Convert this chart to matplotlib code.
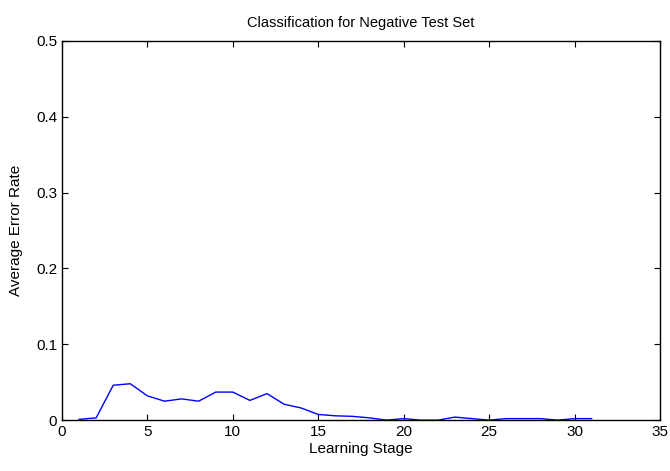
import matplotlib
matplotlib.use("Agg")
from matplotlib import pyplot as plt

plt.rcParams['font.family'] = ['Liberation Sans', 'DejaVu Sans']

stage = list(range(1, 32))
err = [0.001, 0.003, 0.046, 0.048, 0.032, 0.025, 0.028, 0.025, 0.037, 0.037,
       0.026, 0.035, 0.021, 0.016, 0.0075, 0.0057, 0.005, 0.003, 0.0, 0.002,
       0.0, 0.0, 0.004, 0.002, 0.0, 0.002, 0.002, 0.002, 0.0, 0.002, 0.002]

fig = plt.figure(figsize=(6.7, 4.71), dpi=100)
ax = fig.add_axes([0.0925, 0.108, 0.8925, 0.805])

ax.plot(stage, err, color="blue", linewidth=1)

ax.set_xlim(0, 35)
ax.set_ylim(0, 0.5)
ax.set_xticks(range(0, 36, 5))
ax.set_yticks([0, 0.1, 0.2, 0.3, 0.4, 0.5])
ax.set_yticklabels(["0", "0.1", "0.2", "0.3", "0.4", "0.5"])
ax.tick_params(direction="in", top=True, right=True, length=4, labelsize=11)
for s in ax.spines.values():
    s.set_linewidth(1)

ax.set_title("Classification for Negative Test Set", fontsize=10.5, pad=10)
ax.set_xlabel("Learning Stage", fontsize=11, labelpad=2)
ax.set_ylabel("Average Error Rate", fontsize=11, labelpad=9)

plt.savefig("out.png", dpi=100)
